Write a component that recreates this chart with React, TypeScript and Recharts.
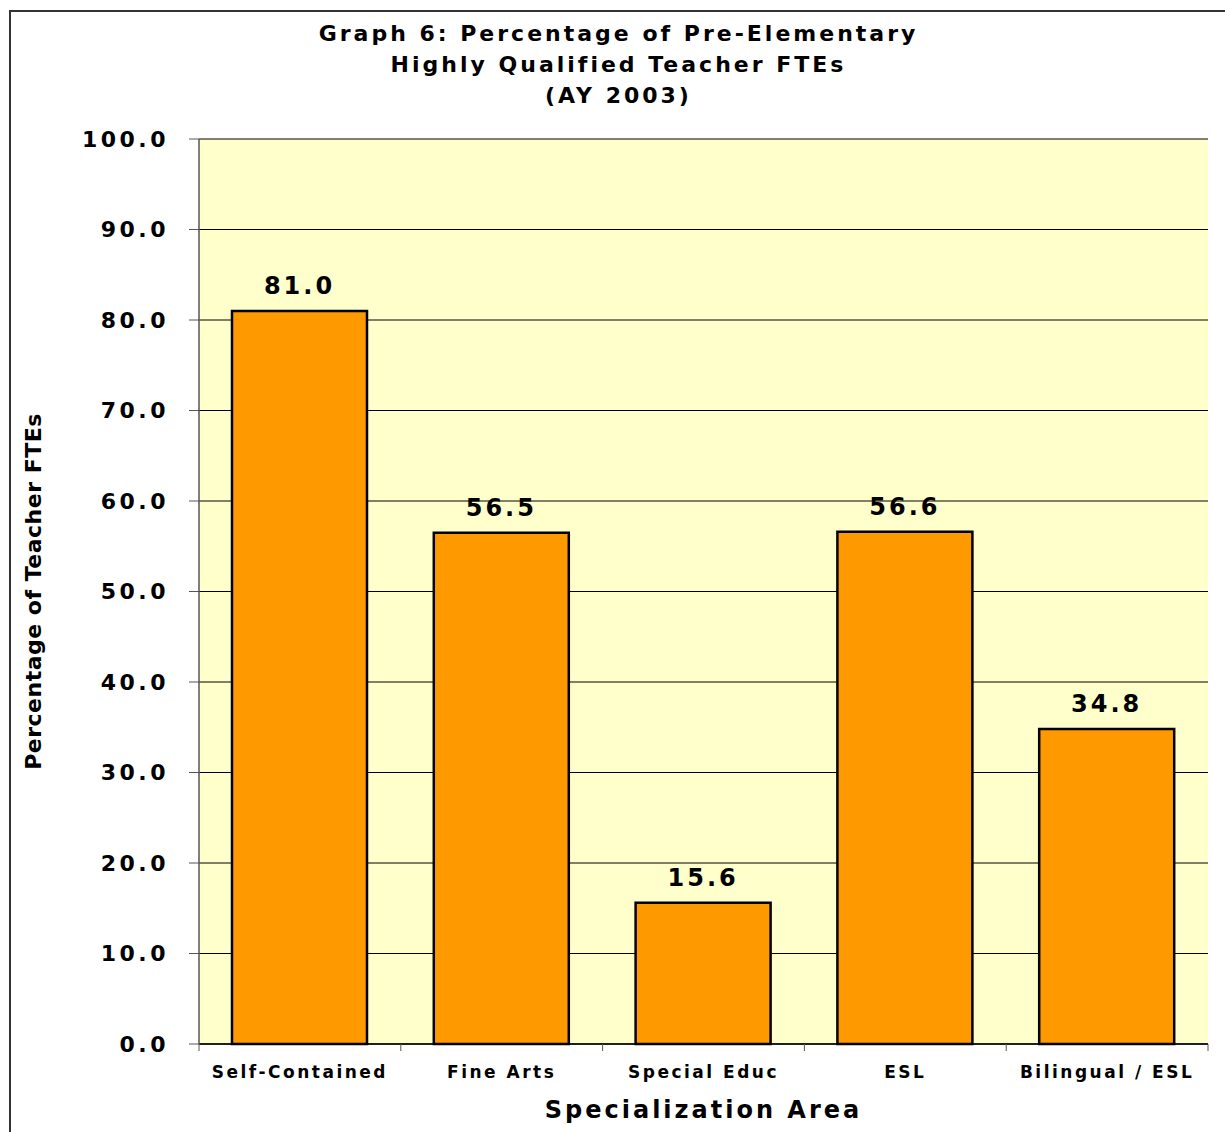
import React from "react"
import { Bar, BarChart, CartesianGrid, LabelList, XAxis, YAxis, Label } from "recharts"

const categories = ["Self-Contained", "Fine Arts", "Special Educ", "ESL", "Bilingual / ESL"]
const percentages = [81.0, 56.5, 15.6, 56.6, 34.8]
const yTicks = [0, 10, 20, 30, 40, 50, 60, 70, 80, 90, 100]
const titleLines = ["Graph 6: Percentage of Pre-Elementary", "Highly Qualified Teacher FTEs", "(AY 2003)"]

const data = categories.map((name, i) => ({ name, value: percentages[i] }))

const W = 1225
const H = 1132
const X_AXIS_H = 88
const Y_AXIS_W = 120
const margin = { top: 139, right: 17, bottom: 0, left: 79 }
const plotW = W - margin.left - Y_AXIS_W - margin.right
const band = plotW / categories.length
const font = "'DejaVu Sans', Verdana, sans-serif"

// category label in the middle, tick marks on the band edges
function CategoryTick(props: any) {
  const { x, y, payload, index } = props
  const half = band / 2
  return (
    <g>
      <line x1={x - half} y1={y - 8} x2={x - half} y2={y - 1} stroke="#555" strokeWidth={1} />
      {index === categories.length - 1 && (
        <line x1={x + half} y1={y - 8} x2={x + half} y2={y - 1} stroke="#555" strokeWidth={1} />
      )}
      <text
        x={x}
        y={y + 26}
        textAnchor="middle"
        fontFamily={font}
        fontWeight="bold"
        fontSize={17}
        letterSpacing={2.5}
        fill="#000"
      >
        {payload.value}
      </text>
    </g>
  )
}

export default function App() {
  return (
    <div style={{ position: "absolute", left: 0, top: 0, width: W, height: H, background: "#fff", overflow: "hidden" }}>
      <div
        style={{
          position: "absolute",
          left: 9,
          top: 10,
          width: W,
          height: H,
          border: "2px solid #333",
        }}
      />
      <div
        style={{
          position: "absolute",
          left: 0,
          top: 18,
          width: 1237,
          textAlign: "center",
          fontFamily: font,
          fontWeight: "bold",
          fontSize: 22,
          letterSpacing: 3,
          lineHeight: "31px",
          color: "#000",
        }}
      >
        {titleLines.map((t) => (
          <div key={t}>{t}</div>
        ))}
      </div>
      <div style={{ position: "absolute", left: 0, top: 0 }}>
        <BarChart width={W} height={H} data={data} margin={margin} barSize={135}>
          <CartesianGrid vertical={false} stroke="#000" strokeOpacity={1} fill="#FFFFCC" fillOpacity={1} />
          <XAxis
            dataKey="name"
            axisLine={{ stroke: "#000", strokeWidth: 1.5 }}
            tickLine={false}
            tick={<CategoryTick />}
            interval={0}
            height={X_AXIS_H}
          >
            <Label
              value="Specialization Area"
              position="insideBottom"
              offset={14}
              fontFamily={font}
              fontWeight="bold"
              fontSize={24}
              letterSpacing={3}
              fill="#000"
            />
          </XAxis>
          <YAxis
            domain={[0, 100]}
            ticks={yTicks}
            width={Y_AXIS_W}
            interval={0}
            axisLine={{ stroke: "#555", strokeWidth: 1.5 }}
            tickLine={{ stroke: "#555" }}
            tickSize={10}
            tickMargin={20}
            tickFormatter={(v: number) => v.toFixed(1)}
            tick={{ fontFamily: font, fontWeight: "bold", fontSize: 22, letterSpacing: 3.5, fill: "#000" }}
          >
            <Label
              value="Percentage of Teacher FTEs"
              angle={-90}
              position="insideLeft"
              offset={-46}
              fontFamily={font}
              fontWeight="bold"
              fontSize={22}
              letterSpacing={0.5}
              fill="#000"
              style={{ textAnchor: "middle" }}
            />
          </YAxis>
          <YAxis
            yAxisId="frame"
            orientation="right"
            domain={[0, 100]}
            width={0}
            tick={false}
            tickLine={false}
            axisLine={{ stroke: "#888", strokeWidth: 2 }}
          />
          <Bar dataKey="value" fill="#FF9900" stroke="#000" strokeWidth={2.5} isAnimationActive={false}>
            <LabelList
              dataKey="value"
              position="top"
              offset={17}
              formatter={(v: any) => Number(v).toFixed(1)}
              fontFamily={font}
              fontWeight="bold"
              fontSize={24}
              letterSpacing={3}
              fill="#000"
            />
          </Bar>
        </BarChart>
      </div>
    </div>
  )
}
